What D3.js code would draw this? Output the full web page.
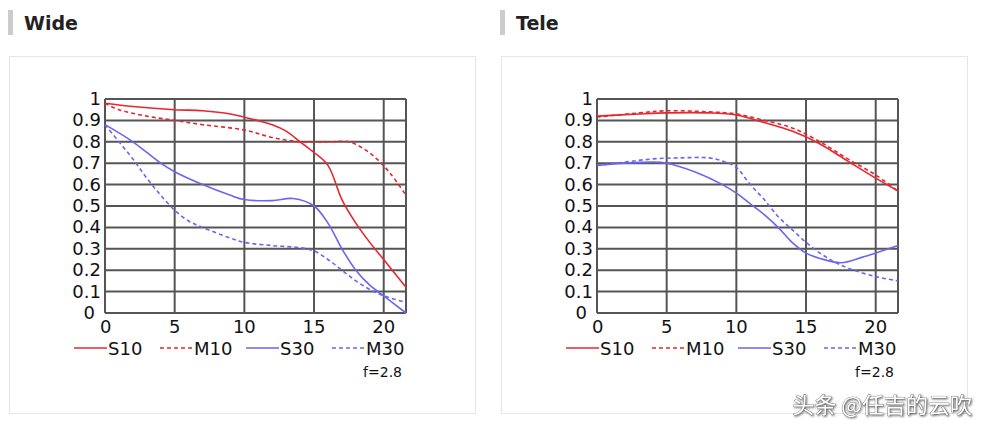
<!DOCTYPE html>
<html>
<head>
<meta charset="utf-8">
<script src="https://cdn.jsdelivr.net/npm/d3@7"></script>
<style>
  body { margin: 0; background: #fff; }
  svg { display: block; }
</style>
</head>
<body>
<svg id="chart" width="984" height="430"></svg>
<script>
// image height (mm) along x, MTF along y
const yTicks = [0, 0.1, 0.2, 0.3, 0.4, 0.5, 0.6, 0.7, 0.8, 0.9, 1];
const xTicks = [0, 5, 10, 15, 20];
const seriesNames = ['S10', 'M10', 'S30', 'M30'];

const wideS10 = [[0,0.98],[2,0.965],[5,0.95],[7,0.945],[9,0.93],[10,0.915],[12,0.88],[13,0.85],[14,0.8],[15,0.75],[16,0.69],[17,0.53],[18,0.42],[19,0.33],[20,0.25],[21.6,0.12]];
const wideM10 = [[0,0.98],[1,0.95],[3,0.92],[5,0.9],[7,0.88],[10,0.855],[12,0.82],[14,0.8],[16,0.8],[17.5,0.8],[18.5,0.77],[19.5,0.72],[20.5,0.65],[21.6,0.55]];
const wideS30 = [[0,0.88],[2,0.8],[4,0.7],[5,0.66],[7,0.6],[9,0.55],[10,0.53],[12,0.525],[13.5,0.535],[15,0.5],[16,0.42],[17,0.3],[18,0.2],[19,0.13],[20,0.08],[21.6,0]];
const wideM30 = [[0,0.88],[1,0.8],[2,0.72],[3,0.63],[4,0.55],[5,0.48],[6,0.43],[7,0.4],[9,0.35],[10,0.33],[12,0.315],[14,0.305],[15,0.29],[16,0.25],[17,0.2],[18,0.15],[19,0.11],[20,0.08],[21.6,0.05]];

const teleS10 = [[0,0.92],[3,0.93],[5,0.935],[8,0.935],[10,0.925],[12,0.89],[14,0.85],[16,0.79],[18,0.71],[20,0.63],[21.6,0.57]];
const teleM10 = [[0,0.915],[3,0.935],[5,0.945],[8,0.94],[10,0.93],[12,0.9],[14,0.865],[16,0.8],[18,0.72],[20,0.645],[21.6,0.57]];
const teleS30 = [[0,0.69],[2,0.7],[4,0.705],[5,0.7],[7,0.66],[9,0.6],[10,0.56],[11,0.51],[12,0.46],[13,0.4],[14,0.33],[15,0.28],[16,0.255],[17.5,0.235],[19,0.26],[20,0.28],[21.6,0.315]];
const teleM30 = [[0,0.69],[2,0.705],[4,0.72],[6,0.725],[8,0.725],[9,0.71],[10,0.68],[11,0.6],[12,0.53],[13,0.45],[14,0.39],[15,0.33],[16,0.28],[17,0.24],[18,0.21],[20,0.17],[21.6,0.15]];

const RED = '#e8262f';
const BLUE = '#6a66ee';
const styles = [
  { color: RED, dash: null },
  { color: RED, dash: '4,3' },
  { color: BLUE, dash: null },
  { color: BLUE, dash: '4,3' }
];

const svg = d3.select('#chart');
const font = 'DejaVu Sans, Verdana, sans-serif';

function drawPanel(ox, title, data) {
  /* heading with grey bar */
  svg.append('rect').attr('x', ox + 8).attr('y', 10).attr('width', 5).attr('height', 25).attr('fill', '#ccc');
  svg.append('text').attr('x', ox + 24).attr('y', 30).text(title)
    .attr('font-family', font).attr('font-weight', 'bold').attr('font-size', 19).attr('fill', '#222');

  svg.append('rect').attr('x', ox + 9.5).attr('y', 56.5).attr('width', 466).attr('height', 357)
    .attr('fill', 'none').attr('stroke', '#e6e6e6');

  const x = d3.scaleLinear().domain([0, 21.6]).range([ox + 105, ox + 406]);
  const y = d3.scaleLinear().domain([0, 1]).range([313, 99]);

  const g = svg.append('g');
  g.selectAll('.h').data(yTicks).join('line')
    .attr('x1', x(0)).attr('x2', x(21.6)).attr('y1', d => y(d)).attr('y2', d => y(d))
    .attr('stroke', '#555').attr('stroke-width', 2);
  g.selectAll('.v').data(xTicks.concat([21.6])).join('line')
    .attr('y1', y(0)).attr('y2', y(1)).attr('x1', d => x(d)).attr('x2', d => x(d))
    .attr('stroke', '#555').attr('stroke-width', 2);

  g.selectAll('.yl').data(yTicks).join('text')
    .attr('x', d => d === 0 ? x(0) - 10 : x(0) - 4)
    .attr('y', d => y(d) + 6)
    .attr('text-anchor', 'end')
    .attr('font-family', font).attr('font-size', 18).attr('fill', '#111')
    .text(d => d === 0 ? '0' : d === 1 ? '1' : d3.format('.1f')(d));
  g.selectAll('.xl').data(xTicks).join('text')
    .attr('x', d => x(d)).attr('y', y(0) + 20)
    .attr('text-anchor', d => d === 0 ? 'start' : 'middle')
    .attr('dx', d => d === 0 ? -5 : 0)
    .attr('font-family', font).attr('font-size', 18).attr('fill', '#111')
    .text(d => d);

  const line = d3.line().x(d => x(d[0])).y(d => y(d[1])).curve(d3.curveCatmullRom.alpha(0.5));
  data.forEach((s, i) => {
    g.append('path').datum(s).attr('d', line)
      .attr('fill', 'none').attr('stroke', styles[i].color).attr('stroke-width', 1.6)
      .attr('stroke-dasharray', styles[i].dash);
  });

  /* legend */
  seriesNames.forEach((n, i) => {
    const lx = ox + 74 + i * 86;
    g.append('line').attr('x1', lx).attr('x2', lx + 33).attr('y1', 348).attr('y2', 348)
      .attr('stroke', styles[i].color).attr('stroke-width', 1.6).attr('stroke-dasharray', styles[i].dash);
    g.append('text').attr('x', lx + 34).attr('y', 355).text(n)
      .attr('font-family', font).attr('font-size', 18).attr('fill', '#111');
  });
  g.append('text').attr('x', ox + 402).attr('y', 377).attr('text-anchor', 'end').text('f=2.8')
    .attr('font-family', font).attr('font-size', 14).attr('fill', '#111');
}

drawPanel(0, 'Wide', [wideS10, wideM10, wideS30, wideM30]);
drawPanel(492, 'Tele', [teleS10, teleM10, teleS30, teleM30]);

svg.append('text').attr('x', 972).attr('y', 413).attr('text-anchor', 'end')
  .text('头条 @任吉的云吹')
  .attr('font-family', 'Noto Sans CJK SC').attr('font-size', 22).attr('fill', '#fff')
  .attr('stroke', '#555').attr('stroke-width', 0.6).attr('paint-order', 'stroke')
  .style('filter', 'drop-shadow(1px 1px 1px rgba(0,0,0,0.6))');
</script>
</body>
</html>
